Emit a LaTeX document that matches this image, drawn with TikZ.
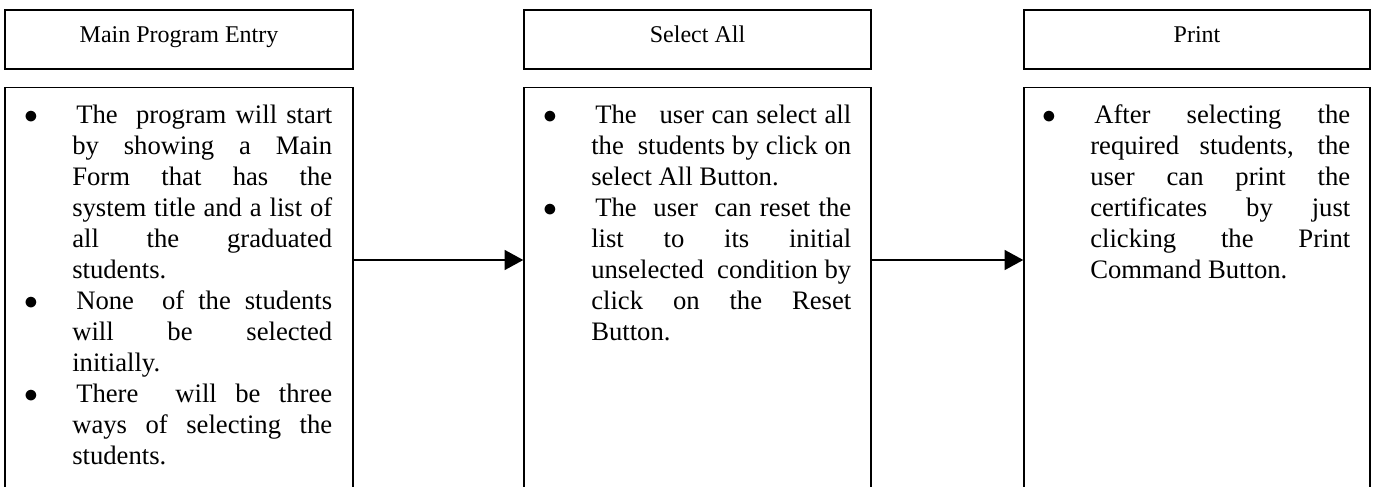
\documentclass[tikz,border=0pt]{standalone}
\usepackage{fontspec}
\setmainfont{Liberation Serif}
\usetikzlibrary{arrows.meta}
\newcommand\itembul{\noindent\llap{\makebox[10pt]{$\bullet$}\hspace{26pt}}\hspace*{3pt}\ignorespaces}
\newcommand\bodyfontset{\fontsize{20pt}{23.3pt}\selectfont\hyphenpenalty=10000\relax\tolerance=9999\relax\hbadness=10000\relax}
\begin{document}
\begin{tikzpicture}[x=0.75pt,y=-0.75pt,
 box/.style={draw, line width=1.1pt, rectangle, inner sep=0pt},
 head/.style={box, minimum height=44.25pt, text height=12.6pt, text depth=7.4pt, font=\fontsize{18pt}{21pt}\selectfont},
 body/.style={box, anchor=north, minimum height=309.75pt},
 txt/.style={anchor=base west, inner sep=0pt, text width=195pt, align=justify, font=\bodyfontset},
 arr/.style={line width=1.1pt, -{Triangle[length=14pt,width=15pt]}}]
\useasboundingbox (0,0) rectangle (1376,486);
\clip (0,0) rectangle (1376,486);
% headers
\node[head, minimum width=261pt] (h1) at (179,39.5) {Main Program Entry};
\node[head, minimum width=260.25pt] (h2) at (697.5,39.5) {Select All};
\node[head, minimum width=259.5pt] (h3) at (1197,39.5) {Print};
% bodies
\node[body, minimum width=261pt] (b1) at (179,87) {};
\node[body, minimum width=260.25pt] (b2) at (697.5,87) {};
\node[body, minimum width=259.5pt] (b3) at (1197,87) {};
% texts
\node[txt] (t1) at (72,123) {\itembul The\ \ program will start\linebreak by showing a Main\linebreak Form that has the\linebreak system\ title and a list of\linebreak all the graduated\linebreak students.\par
\itembul None\ \ of the students\linebreak will be selected\linebreak initially.\par
\itembul There\ \ will be three\linebreak ways of selecting the\linebreak students.\par};
\node[txt] (t2) at (591,123) {\itembul The\ \ \ user can select all\linebreak the\ \ students by click on\linebreak select All Button.\par
\itembul The\ \ user\ \ can reset the\linebreak list to its initial\linebreak unselected\ \ condition by\linebreak click on the Reset\linebreak Button.\par};
\node[txt] (t3) at (1090,123) {\itembul After selecting the\linebreak required students, the\linebreak user can print the\linebreak certificates by just\linebreak clicking the Print\linebreak Command Button.\par};
% connectors
\draw[arr] ([yshift=-129.75pt]b1.north east) -- ([yshift=-129.75pt]b2.north west);
\draw[arr] ([yshift=-129.75pt]b2.north east) -- ([yshift=-129.75pt]b3.north west);
\end{tikzpicture}
\end{document}
